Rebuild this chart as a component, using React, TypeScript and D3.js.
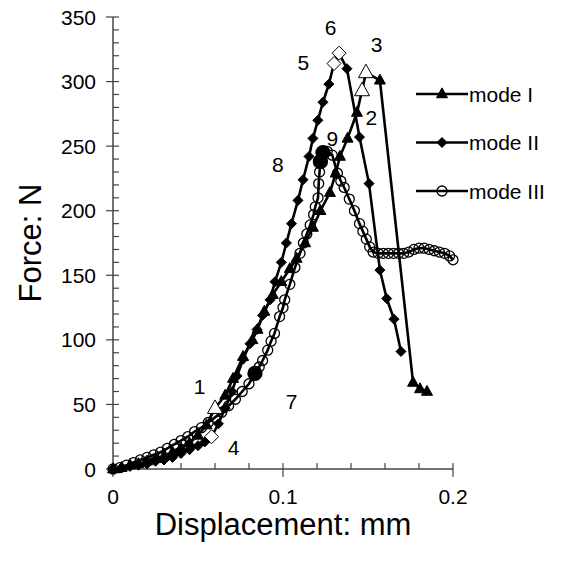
import React from "react";
import * as d3 from "d3";

// ---- data ----
const modeIX = [0, 0.005, 0.01, 0.015, 0.02, 0.025, 0.03, 0.035, 0.04, 0.045, 0.05, 0.055, 0.066, 0.0706, 0.0765, 0.082, 0.085, 0.089, 0.094, 0.099, 0.104, 0.108, 0.113, 0.1176, 0.122, 0.1276, 0.131, 0.1335, 0.138, 0.1435, 0.157, 0.1765, 0.1806, 0.1847];
const modeIY = [0, 1, 3, 4, 6, 8, 10, 13, 16, 20, 26, 34, 57, 70, 87, 100, 108, 122, 135, 145, 155, 163, 175, 187, 200, 214, 229, 242, 256, 276, 301, 67, 62, 60];

const modeIIX = [0, 0.005, 0.01, 0.015, 0.02, 0.025, 0.03, 0.035, 0.04, 0.045, 0.05, 0.054, 0.062, 0.066, 0.07, 0.073, 0.0765, 0.0806, 0.0847, 0.088, 0.0924, 0.0953, 0.099, 0.102, 0.105, 0.1088, 0.1118, 0.1153, 0.1176, 0.1205, 0.1235, 0.127, 0.1376, 0.145, 0.1506, 0.157, 0.161, 0.1653, 0.1694];
const modeIIY = [0, 1, 2, 3, 4, 6, 7, 9, 12, 15, 18, 21, 35, 47, 60, 72, 85, 97, 108, 119, 131, 145, 160, 175, 190, 208, 224, 242, 256, 270, 284, 298, 310, 257, 221, 154, 132, 116, 91];

const modeIIIX = [0, 0.004, 0.008, 0.012, 0.016, 0.02, 0.024, 0.028, 0.032, 0.036, 0.04, 0.044, 0.048, 0.052, 0.056, 0.06, 0.064, 0.068, 0.072, 0.076, 0.08, 0.086, 0.088, 0.091, 0.093, 0.095, 0.098, 0.1, 0.101, 0.104, 0.107, 0.11, 0.112, 0.114, 0.116, 0.118, 0.119, 0.1206, 0.121, 0.1215, 0.126, 0.129, 0.132, 0.134, 0.136, 0.139, 0.142, 0.145, 0.147, 0.149, 0.151, 0.153, 0.156, 0.159, 0.162, 0.165, 0.168, 0.171, 0.174, 0.177, 0.18, 0.183, 0.186, 0.189, 0.192, 0.195, 0.198, 0.2];
const modeIIIY = [0, 1, 3, 5, 7, 9, 11, 13, 16, 19, 22, 25, 29, 32, 36, 40, 44, 49, 54, 60, 66, 79, 84, 92, 99, 105, 118, 125, 131, 143, 156, 167, 175, 182, 189, 197, 203, 210, 221, 230, 246, 243, 229, 223, 218, 209, 200, 190, 184, 178, 172, 168, 167, 167, 167, 167, 167, 167, 168, 170, 171, 171, 170, 169, 168, 167, 165, 162];

// special (numbered) points
const specialLabels = ["1", "2", "3", "4", "5", "6", "7", "8", "9"];
const specialSeries = ["I", "I", "I", "II", "II", "II", "III", "III", "III"];
const specialX = [0.06, 0.1465, 0.1488, 0.058, 0.130, 0.133, 0.0835, 0.122, 0.1235];
const specialY = [47, 293, 307, 25, 314, 322, 74, 238, 245];
// label text positions (data coords)
const labelX = [0.051, 0.152, 0.155, 0.071, 0.112, 0.128, 0.105, 0.097, 0.129];
const labelY = [64, 272, 329, 17, 315, 342, 52, 236, 256];

const yTicks = [0, 50, 100, 150, 200, 250, 300, 350];
const xTicks = [0, 0.1, 0.2];
const xTickLabels = ["0", "0.1", "0.2"];
const legendNames = ["mode I", "mode II", "mode III"];

const FONT = "'Liberation Sans', Arial, sans-serif";

function merge(xs: number[], ys: number[], sx: number[], sy: number[], ser: string[], key: string) {
  const pts = xs.map((x, i) => [x, ys[i]] as [number, number]);
  ser.forEach((s, i) => {
    if (s === key) pts.push([sx[i], sy[i]]);
  });
  pts.sort((a, b) => a[0] - b[0] || 0);
  return pts;
}

const Tri = ({ x, y, s, open }: { x: number; y: number; s: number; open?: boolean }) => {
  const h = s * 0.9;
  return (
    <path
      d={`M${x},${y - h * 0.62}L${x + s / 2},${y + h * 0.38}L${x - s / 2},${y + h * 0.38}Z`}
      fill={open ? "#fff" : "#000"}
      stroke="#000"
      strokeWidth={1}
    />
  );
};
const Dia = ({ x, y, s, open }: { x: number; y: number; s: number; open?: boolean }) => (
  <path
    d={`M${x},${y - s / 2}L${x + s / 2},${y}L${x},${y + s / 2}L${x - s / 2},${y}Z`}
    fill={open ? "#fff" : "#000"}
    stroke="#000"
    strokeWidth={1}
  />
);
const Circ = ({ x, y, r, filled }: { x: number; y: number; r: number; filled?: boolean }) => (
  <circle cx={x} cy={y} r={r} fill={filled ? "#000" : "none"} stroke="#000" strokeWidth={1.3} />
);

export default function App() {
  const W = 571, H = 565;
  const x = d3.scaleLinear().domain([0, 0.2]).range([113, 453]);
  const y = d3.scaleLinear().domain([0, 350]).range([469, 17]);
  const line = d3.line<[number, number]>().x((d) => x(d[0])).y((d) => y(d[1]));

  const m1 = merge(modeIX, modeIY, specialX, specialY, specialSeries, "I");
  const m2 = merge(modeIIX, modeIIY, specialX, specialY, specialSeries, "II");
  const m3 = merge(modeIIIX, modeIIIY, specialX, specialY, specialSeries, "III");

  const minorY = d3.range(0, 351, 10);
  const minorX = d3.range(0, 0.2001, 0.02);
  const axisColor = "#444";

  return (
    <svg width={W} height={H} style={{ position: "absolute", left: 0, top: 0 }}>
      <rect width={W} height={H} fill="#fff" />
      {/* axes */}
      <line x1={x(0)} x2={x(0)} y1={y(0)} y2={y(350)} stroke={axisColor} strokeWidth={1.5} />
      <line x1={x(0)} x2={x(0.2)} y1={y(0)} y2={y(0)} stroke={axisColor} strokeWidth={1.5} />
      {minorY.map((v, i) => (
        <line key={"my" + i} x1={x(0)} x2={x(0) + 6} y1={y(v)} y2={y(v)} stroke={axisColor} strokeWidth={1.2} />
      ))}
      {yTicks.map((v, i) => (
        <g key={"yt" + i}>
          <line x1={x(0) - 7} x2={x(0)} y1={y(v)} y2={y(v)} stroke={axisColor} strokeWidth={1.2} />
          <text x={x(0) - 17} y={y(v)} textAnchor="end" dominantBaseline="central" fontFamily={FONT} fontSize={21}>
            {v}
          </text>
        </g>
      ))}
      {minorX.map((v, i) => (
        <line key={"mx" + i} x1={x(v)} x2={x(v)} y1={y(0)} y2={y(0) - 6} stroke={axisColor} strokeWidth={1.2} />
      ))}
      {xTicks.map((v, i) => (
        <g key={"xt" + i}>
          <line x1={x(v)} x2={x(v)} y1={y(0)} y2={y(0) + 8} stroke={axisColor} strokeWidth={1.2} />
          <text x={x(v)} y={y(0) + 27} textAnchor="middle" dominantBaseline="central" fontFamily={FONT} fontSize={21}>
            {xTickLabels[i]}
          </text>
        </g>
      ))}
      <text x={283} y={535} textAnchor="middle" fontFamily={FONT} fontSize={31}>
        Displacement: mm
      </text>
      <text
        transform={`translate(41,243) rotate(-90)`}
        textAnchor="middle"
        fontFamily={FONT}
        fontSize={31}
      >
        Force: N
      </text>

      {/* series lines */}
      <path d={line(m3) || ""} fill="none" stroke="#000" strokeWidth={2.6} />
      <path d={line(m1) || ""} fill="none" stroke="#000" strokeWidth={2.6} />
      <path d={line(m2) || ""} fill="none" stroke="#000" strokeWidth={2.6} />

      {/* markers */}
      {modeIIIX.map((v, i) => (
        <Circ key={"c" + i} x={x(v)} y={y(modeIIIY[i])} r={5} />
      ))}
      {modeIX.map((v, i) => (
        <Tri key={"t" + i} x={x(v)} y={y(modeIY[i])} s={11} />
      ))}
      {modeIIX.map((v, i) => (
        <Dia key={"d" + i} x={x(v)} y={y(modeIIY[i])} s={10} />
      ))}

      {/* special points */}
      {specialX.map((v, i) => {
        const s = specialSeries[i];
        if (s === "I") return <Tri key={"s" + i} x={x(v)} y={y(specialY[i])} s={15} open />;
        if (s === "II") return <Dia key={"s" + i} x={x(v)} y={y(specialY[i])} s={14} open />;
        return <Circ key={"s" + i} x={x(v)} y={y(specialY[i])} r={7} filled />;
      })}
      {specialLabels.map((t, i) => (
        <text key={"l" + i} x={x(labelX[i])} y={y(labelY[i])} textAnchor="middle" dominantBaseline="central" fontFamily={FONT} fontSize={21}>
          {t}
        </text>
      ))}

      {/* legend */}
      {legendNames.map((n, i) => {
        const ly = 94 + i * 48.5;
        return (
          <g key={"lg" + i}>
            <line x1={416} x2={468} y1={ly} y2={ly} stroke="#000" strokeWidth={2.6} />
            {i === 0 && <Tri x={442} y={ly} s={11} />}
            {i === 1 && <Dia x={442} y={ly} s={10} />}
            {i === 2 && <Circ x={442} y={ly} r={5} />}
            <text x={469} y={ly} dominantBaseline="central" fontFamily={FONT} fontSize={21}>
              {n}
            </text>
          </g>
        );
      })}
    </svg>
  );
}
